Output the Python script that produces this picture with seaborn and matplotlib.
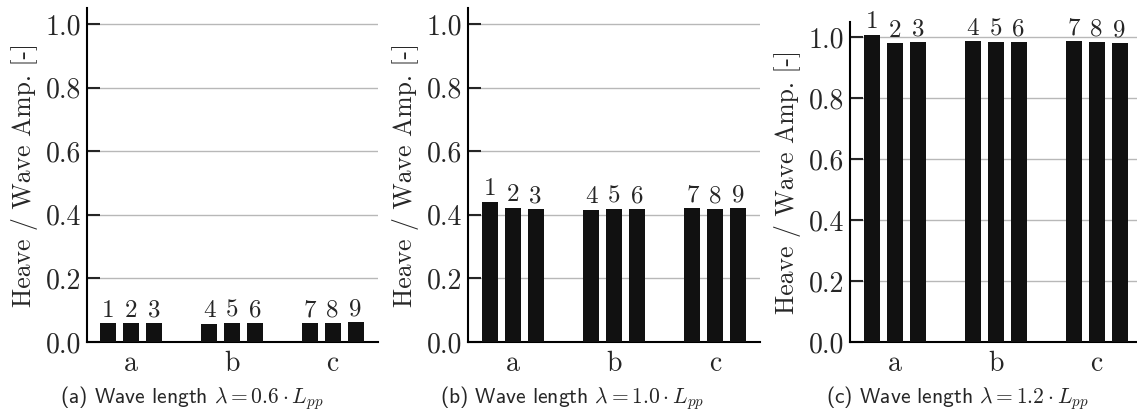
import matplotlib
matplotlib.use("Agg")
import matplotlib.pyplot as plt
import seaborn as sns
import pandas as pd

groups = ["a", "b", "c"]
runs = [1, 2, 3, 4, 5, 6, 7, 8, 9]
heave_06 = [0.060, 0.060, 0.060, 0.057, 0.060, 0.060, 0.060, 0.060, 0.063]
heave_10 = [0.441, 0.422, 0.418, 0.416, 0.418, 0.418, 0.422, 0.418, 0.422]
heave_12 = [1.008, 0.980, 0.984, 0.987, 0.984, 0.984, 0.987, 0.984, 0.980]
captions = [r"(a) Wave length $\lambda = 0.6 \cdot L_{pp}$",
            r"(b) Wave length $\lambda = 1.0 \cdot L_{pp}$",
            r"(c) Wave length $\lambda = 1.2 \cdot L_{pp}$"]
yticks = [0.0, 0.2, 0.4, 0.6, 0.8, 1.0]

sns.set_style("ticks")
plt.rcParams["font.family"] = ["cmr10", "DejaVu Serif"]
plt.rcParams["mathtext.fontset"] = "cm"
plt.rcParams["axes.formatter.use_mathtext"] = True

fig = plt.figure(figsize=(11.37, 4.13), dpi=100)
W, H = 1137, 413
# axes boxes in pixels: left, right, top (bottom of all at y=342)
boxes = [(87, 378, 8), (468, 760, 8), (850, 1137, 22)]
xlims = [(-0.44, 2.45), (-0.44, 2.44), (-0.445, 2.40)]
cap_x = [192, 572, 957]

for i, vals in enumerate([heave_06, heave_10, heave_12]):
    l, r, t = boxes[i]
    ax = fig.add_axes([l / W, (H - 342) / H, (r - l) / W, (342 - t) / H])
    df = pd.DataFrame({
        "group": [groups[k // 3] for k in range(9)],
        "slot": [k % 3 for k in range(9)],
        "run": runs,
        "value": vals,
    })
    sns.barplot(data=df, x="group", y="value", hue="slot", ax=ax,
                palette=["#111111"] * 3, width=0.68, gap=0.3,
                legend=False, saturation=1, linewidth=0, zorder=3)
    for k, cont in enumerate(ax.containers):
        ax.bar_label(cont, labels=[str(runs[k]), str(runs[k + 3]), str(runs[k + 6])],
                     padding=1, fontsize=18)
    ax.set_xlim(*xlims[i])
    ax.set_ylim(0, 1.05)
    ax.set_yticks(yticks)
    ax.set_yticklabels([f"{v:.1f}" for v in yticks])
    ax.yaxis.grid(True, color="#b8b8b8", lw=1.0, zorder=0)
    ax.set_axisbelow(True)
    ax.tick_params(axis="y", direction="in", length=9, width=1.5, labelsize=20, pad=4)
    ax.tick_params(axis="x", length=0, labelsize=20, pad=6)
    for s in ["top", "right"]:
        ax.spines[s].set_visible(False)
    for s in ["left", "bottom"]:
        ax.spines[s].set_linewidth(1.5)
        ax.spines[s].set_color("black")
    ax.set_xlabel("")
    ax.set_ylabel("Heave / Wave Amp. [-]", fontsize=18.5, labelpad=6)
    fig.text(cap_x[i] / W, (H - 398) / H, captions[i], ha="center", va="center",
             fontsize=15.5, family=["cmss10", "DejaVu Sans"])

fig.savefig("out.png", dpi=100)
